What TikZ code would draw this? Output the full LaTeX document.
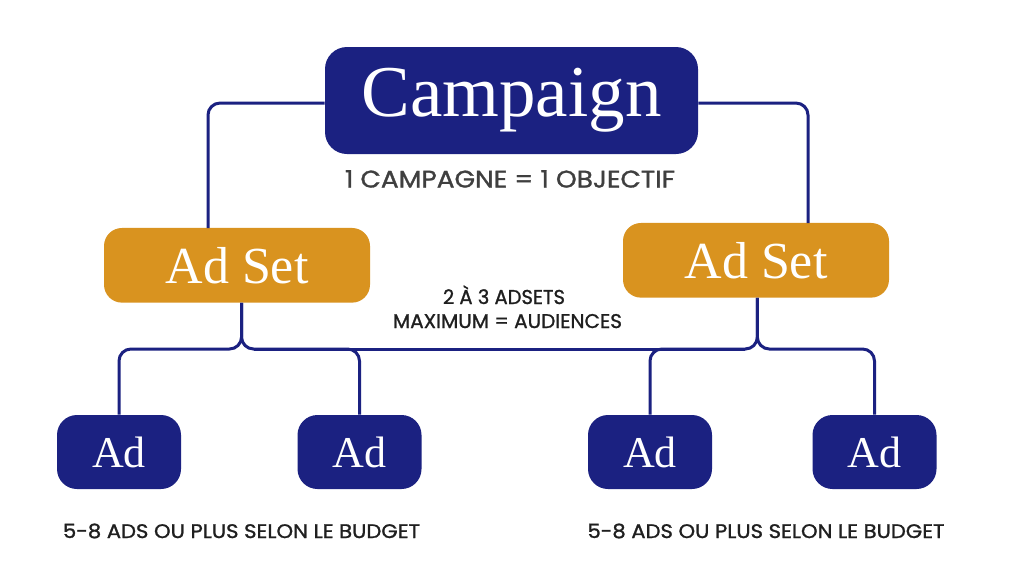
\documentclass[tikz,border=0pt]{standalone}
\usepackage{fontspec}
\usepackage{graphicx}
\setmainfont{Liberation Serif}
\newfontfamily\lblfont[FakeBold=1.2]{Poppins}
\definecolor{navy}{HTML}{1B2181}
\definecolor{gold}{HTML}{D9931F}
\definecolor{txtgray}{HTML}{3F3F3F}
\definecolor{txtdark}{HTML}{1F1F1F}
\tikzset{
  campbox/.style={fill=navy, rounded corners=16.5pt, minimum width=279.75pt, minimum height=80.25pt, inner sep=0pt, text=white, font=\fontsize{54.75pt}{60pt}\selectfont},
  setbox/.style={fill=gold, rounded corners=13.5pt, minimum width=199.5pt, minimum height=56pt, inner sep=0pt, text=white, font=\fontsize{39pt}{44pt}\selectfont},
  adbox/.style={fill=navy, rounded corners=15pt, minimum width=93pt, minimum height=55.5pt, inner sep=0pt, text=white, font=\fontsize{33pt}{38pt}\selectfont},
  conn/.style={draw=navy, line width=2.25pt, rounded corners=9pt},
  lbl/.style={inner sep=0pt, anchor=base}
}
\begin{document}
\begin{tikzpicture}[x=0.75pt, y=-0.75pt]
\fill[white] (0,0) rectangle (1024,576);
\useasboundingbox (0,0) rectangle (1024,576);

% boxes
\node[campbox] (camp) at (511.5,100.5) {Campaign};
\node[setbox] (adL) at (237,265.3) {Ad Set};
\node[setbox] (adR) at (756,260.3) {Ad Set};
\node[adbox] (ad1) at (119,452) {Ad};
\node[adbox] (ad2) at (359.5,452) {Ad};
\node[adbox] (ad3) at (650,452) {Ad};
\node[adbox] (ad4) at (874.5,452) {Ad};

% labels
\node[lbl, text=txtgray] (obj) at (510,187.5) {\resizebox{247.5pt}{13pt}{\lblfont 1 CAMPAGNE = 1 OBJECTIF}};
\node[lbl, text=txtdark] (mid1) at (504,304) {\resizebox{91.5pt}{10.5pt}{\lblfont\raisebox{0pt}[\fontcharht\font`\A][0pt]{2 À 3 ADSETS}}};
\node[lbl, text=txtdark] (mid2) at (507.5,328) {\resizebox{171.75pt}{10.5pt}{\lblfont MAXIMUM = AUDIENCES}};
\node[lbl, text=txtdark] (budL) at (241.5,538) {\resizebox{267.75pt}{10.8pt}{\lblfont 5-8 ADS OU PLUS SELON LE BUDGET}};
\node[lbl, text=txtdark] (budR) at (766,538) {\resizebox{267.75pt}{10.8pt}{\lblfont 5-8 ADS OU PLUS SELON LE BUDGET}};

% connection points
\coordinate (tL) at (208,228);
\coordinate (tR) at (808,223);
\coordinate (sL) at ([xshift=3.4pt]adL.south);
\coordinate (sR) at ([xshift=1pt]adR.south);
\coordinate (jL) at (sL |- 0,349);
\coordinate (jR) at (sR |- 0,349);

% connectors
\draw[conn] ([yshift=-1.9pt]camp.west) -| (tL);
\draw[conn] ([yshift=-1.9pt]camp.east) -| (tR);
\draw[conn] (ad1.north) |- (jL) -- (sL);
\draw[conn] (sL) -- (jL) -| (ad2.north);
\draw[conn] (ad3.north) |- (jR) -- (sR);
\draw[conn] (sR) -- (jR) -| (ad4.north);
\draw[conn] ([xshift=9pt]jL) -- ([xshift=-9pt]jR);
\end{tikzpicture}
\end{document}
